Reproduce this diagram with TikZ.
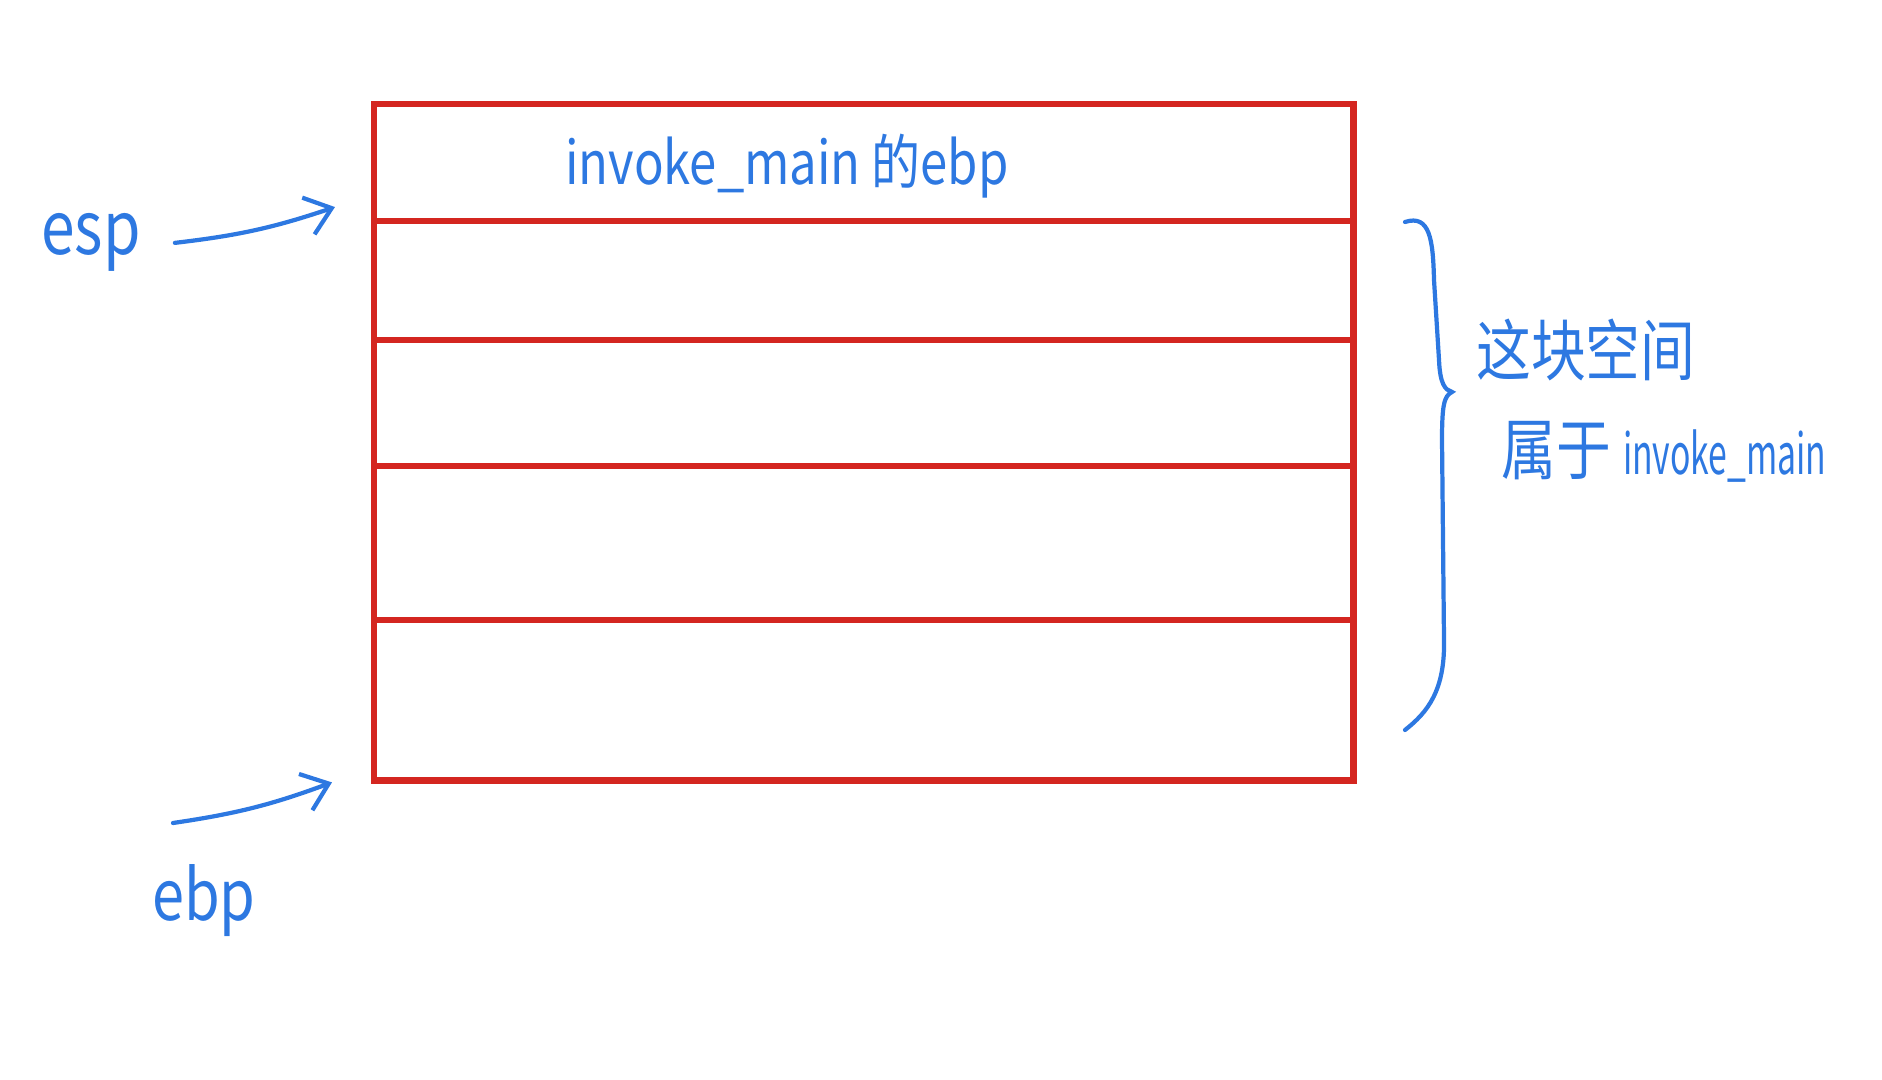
\documentclass[tikz,border=0pt]{standalone}
\usepackage{fontspec}
\newfontfamily\hand[FakeStretch=0.82]{Noto Sans CJK SC}
\newfontfamily\handnarrow[FakeStretch=0.6]{Noto Sans CJK SC}
\usetikzlibrary{arrows.meta,positioning}
\definecolor{stackred}{RGB}{212,38,32}
\definecolor{inkblue}{RGB}{45,120,225}
\tikzset{
    cell/.style={draw=stackred, line width=1.8pt, rectangle, minimum width=9.79cm, outer sep=0pt, inner sep=0pt},
    ink/.style={text=inkblue, inner sep=1pt, font=\hand\fontsize{#1}{#1}\selectfont},
    pointer/.style={draw=inkblue, line width=1.2pt, line cap=round, -{Straight Barb[length=7pt,width=11pt,line width=1.2pt]}},
    brace line/.style={draw=inkblue, line width=1.2pt, line cap=round}
}
\begin{document}
\begin{tikzpicture}[x=0.01cm, y=-0.01cm]
    \useasboundingbox (0,0) rectangle (1882,1080);
    % stack cells
    \node[cell, minimum height=1.17cm, anchor=north west] (slot1) at (374,104) {};
    \node[cell, minimum height=1.19cm, below=0pt of slot1] (slot2) {};
    \node[cell, minimum height=1.26cm, below=0pt of slot2] (slot3) {};
    \node[cell, minimum height=1.54cm, below=0pt of slot3] (slot4) {};
    \node[cell, minimum height=1.60cm, below=0pt of slot4] (slot5) {};
    \node[ink=17pt] (slot1 label) at (787,166) {invoke\_main 的ebp};

    % pointers
    \node[ink=21pt, anchor=base west] (esp) at (37,255) {esp};
    \node[ink=20pt, anchor=base west] (ebp) at (148,920) {ebp};
    \coordinate (esp head) at ([xshift=-0.39cm, yshift=0.14cm]slot2.north west);
    \coordinate (ebp tail) at (173,823);
    \coordinate (ebp head) at ([xshift=-0.42cm, yshift=-0.02cm]slot5.south west);
    \draw[pointer] ([xshift=0.3cm]esp.east) to[bend right=6] (esp head);
    \draw[pointer] (ebp tail) to[bend right=6] (ebp head);

    % brace
    \coordinate (brace top) at (1405,222);
    \coordinate (brace tip) at (1452,392);
    \coordinate (brace bottom) at (1405,730);
    \draw[brace line] (brace top) .. controls (1430,214) and (1433,240) .. (1434,280)
        -- (1439,360) .. controls (1440,384) and (1445,390) .. (brace tip)
        .. controls (1444,396) and (1442,405) .. (1442,440)
        -- (1444,640) .. controls (1445,690) and (1428,712) .. (brace bottom);
    \node[ink=19pt, anchor=west] (space label) at (1472,350) {这块空间};
    \node[ink=19pt, anchor=west] (owner label) at (1497,452) {属于 {\handnarrow\fontsize{16pt}{16pt}\selectfont invoke\_main}};
\end{tikzpicture}
\end{document}
